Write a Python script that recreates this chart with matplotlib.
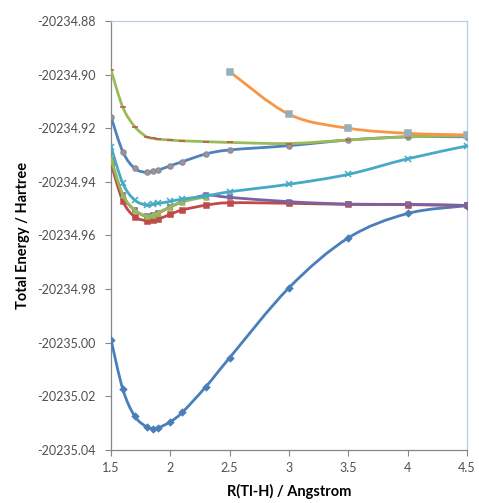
import numpy as np
import matplotlib.pyplot as plt
from matplotlib.path import Path
from matplotlib.patches import PathPatch

plt.rcParams['font.family'] = ['Lato', 'DejaVu Sans']

# bond lengths (Angstrom)
r_all = [1.5, 1.6, 1.7, 1.8, 1.85, 1.9, 2.0, 2.1, 2.3, 2.5, 3.0, 3.5, 4.0, 4.5]
r_short = [1.5, 1.6, 1.7, 1.8, 1.85, 1.9, 2.0, 2.1, 2.3]
r_long = [2.5, 3.0, 3.5, 4.0, 4.5]

# total energies (Hartree)
e_deep = [-20234.9988, -20235.0174, -20235.0274, -20235.0314, -20235.0320, -20235.0317,
          -20235.0295, -20235.0260, -20235.0164, -20235.0056, -20234.9795, -20234.9609,
          -20234.9518, -20234.9489]
e_red = [-20234.9331, -20234.9472, -20234.9530, -20234.9545, -20234.9543, -20234.9539,
         -20234.9521, -20234.9505, -20234.9487, -20234.9478, -20234.9480, -20234.9484,
         -20234.9485, -20234.9488]
e_purple = [-20234.9318, -20234.9450, -20234.9506, -20234.9529, -20234.9525, -20234.9516,
            -20234.9494, -20234.9475, -20234.9450, -20234.9458, -20234.9474, -20234.9483,
            -20234.9484, -20234.9488]
e_green = [-20234.9316, -20234.9449, -20234.9505, -20234.9528, -20234.9524, -20234.9515,
           -20234.9493, -20234.9474, -20234.9456]
e_aqua = [-20234.9269, -20234.9406, -20234.9468, -20234.9487, -20234.9484, -20234.9480,
          -20234.9473, -20234.9464, -20234.9453, -20234.9437, -20234.9409, -20234.9372,
          -20234.9314, -20234.9266]
e_blue = [-20234.9157, -20234.9288, -20234.9350, -20234.9365, -20234.9360, -20234.9356,
          -20234.9340, -20234.9325, -20234.9296, -20234.9281, -20234.9265, -20234.9244,
          -20234.9232, -20234.9232]
e_lime = [-20234.8983, -20234.9122, -20234.9194, -20234.9232, -20234.9237, -20234.9241,
          -20234.9244, -20234.9247, -20234.9250, -20234.9253, -20234.9257, -20234.9244,
          -20234.9232, -20234.9229]
e_orange = [-20234.8989, -20234.9148, -20234.9200, -20234.9219, -20234.9225]


def smooth_line(ax, x, y, color, lw, z):
    # Excel style smoothed line: cubic bezier through every point
    pts = np.column_stack([x, y])
    n = len(pts)
    verts = [pts[0]]
    codes = [Path.MOVETO]
    for i in range(n - 1):
        p0 = pts[max(i - 1, 0)]
        p1 = pts[i]
        p2 = pts[i + 1]
        p3 = pts[min(i + 2, n - 1)]
        c1 = p1 + (p2 - p0) / 6.0
        c2 = p2 - (p3 - p1) / 6.0
        verts += [c1, c2, p2]
        codes += [Path.CURVE4] * 3
    patch = PathPatch(Path(verts, codes), facecolor='none', edgecolor=color,
                      lw=lw, transform=ax.transData, zorder=z, capstyle='round',
                      joinstyle='round')
    ax.add_patch(patch)


fig = plt.figure(figsize=(4.79, 5.03), dpi=100)
ax = fig.add_axes([0.2317, 0.1054, 0.7432, 0.8529])

series = [
    # x, y, line colour, marker, marker face, marker edge, size, zorder
    (r_all, e_deep, '#4A7EBB', 'D', '#4A7EBB', '#4A7EBB', 3.2, 3),
    (r_all, e_red, '#BE4B48', 's', '#BE4B48', '#BE4B48', 3.6, 3),
    (r_all, e_purple, '#7D60A0', 's', '#7D7590', '#7D60A0', 3.2, 3.2),
    (r_short, e_green, '#98B954', '^', '#98B954', '#98B954', 3.6, 3.4),
    (r_all, e_aqua, '#46AAC5', 'x', '#46AAC5', '#46AAC5', 4, 3.5),
    (r_all, e_blue, '#4F81BD', 'o', '#B98C78', '#8090AA', 3.6, 3.6),
    (r_all, e_lime, '#9BBB59', '_', '#C0504D', '#C0504D', 5, 3.7),
    (r_long, e_orange, '#F79646', 's', '#8DB3C0', '#9AB0B8', 4.2, 3.8),
]

for x, y, col, mk, mfc, mec, ms, z in series:
    smooth_line(ax, x, y, col, 2.0, z)
    ax.plot(x, y, linestyle='none', marker=mk, markersize=ms, markerfacecolor=mfc,
            markeredgecolor=mec, markeredgewidth=1.1, zorder=z + 0.05)

ax.set_xlim(1.5, 4.5)
ax.set_ylim(-20235.04, -20234.88)
ax.set_xticks([1.5, 2, 2.5, 3, 3.5, 4, 4.5])
ax.set_xticklabels(['1.5', '2', '2.5', '3', '3.5', '4', '4.5'])
yt = np.arange(-20235.04, -20234.87, 0.02)
ax.set_yticks(yt)
ax.set_yticklabels(['%.2f' % v for v in yt])

for side in ['top', 'right']:
    ax.spines[side].set_color('#B9CDE5')
    ax.spines[side].set_linewidth(0.9)
for side in ['left', 'bottom']:
    ax.spines[side].set_color('#868686')
    ax.spines[side].set_linewidth(0.9)
ax.tick_params(axis='both', direction='out', length=4, width=0.8, color='#868686',
               labelsize=9, labelcolor='#505050')
ax.tick_params(axis='x', pad=5)
ax.tick_params(axis='y', pad=7)

ax.set_xlabel('R(Tl-H) / Angstrom', fontsize=10.5, fontweight='bold', labelpad=7)
ax.set_ylabel('Total Energy / Hartree', fontsize=10.5, fontweight='bold', labelpad=5)

fig.savefig('out.png', dpi=100)
